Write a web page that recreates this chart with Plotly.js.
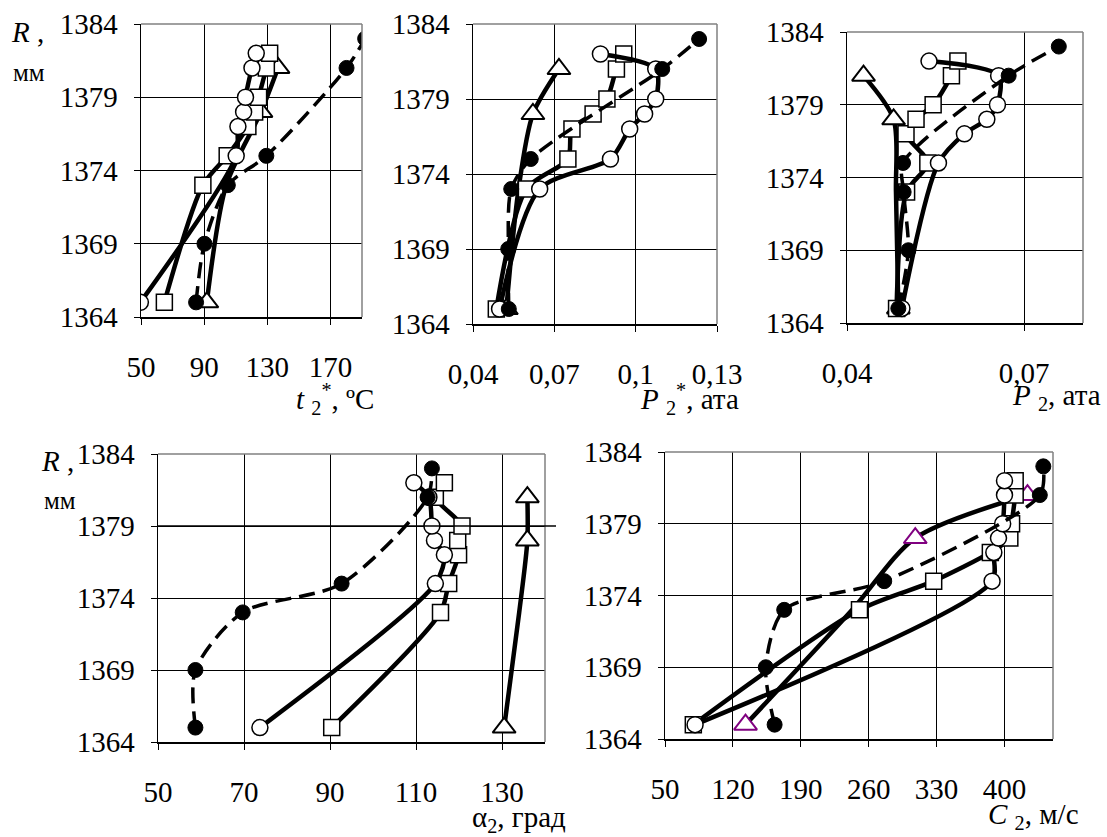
<!DOCTYPE html>
<html>
<head>
<meta charset="utf-8">
<script src="https://cdn.plot.ly/plotly-3.0.1.min.js"></script>
<style>html,body{margin:0;padding:0;background:#fff;}#chart{width:1107px;height:837px;}</style>
</head>
<body>
<div id="chart"></div>
<script>
// ---- Data (R, mm levels) ----
const R_black = [1365, 1369, 1373, 1375, 1381, 1383];
const R_open  = [1365, 1373, 1375, 1377, 1378, 1379, 1381, 1382];
const R_tri   = [1365, 1373, 1378, 1381];
const triShown = [true, false, true, true];

// t2*, ºC
const t2_black = [84.9, 90.2, 105, 129.4, 180.2, 192];
const t2_circ  = [49.6, null, 110.3, 111.4, 115, 116.2, 120.3, 123];
const t2_sq    = [64.8, 89.2, 104.6, 117.7, 122, 124.5, 129.4, 131.5];
const t2_tri   = [91.7, 104, 126, 136.8];

// P2*, ата
const p2s_black = [0.0532, 0.053, 0.0541, 0.0613, 0.1098, 0.1234];
const p2s_circ  = [0.0498, 0.0646, 0.0907, 0.0978, 0.1033, 0.1074, 0.1074, 0.087];
const p2s_sq    = [0.0486, 0.0597, 0.075, 0.0765, 0.0843, 0.0894, 0.0929, 0.0956];
const p2s_tri   = [0.0523, 0.0568, 0.0621, 0.0717];

// P2, ата
const p2_black = [0.0487, 0.0504, 0.0496, 0.0495, 0.0674, 0.0759];
const p2_circ  = [0.0493, null, 0.0555, 0.0599, 0.0637, 0.0655, 0.0657, 0.0539];
const p2_sq    = [0.0484, 0.0501, 0.0537, 0.0500, 0.0517, 0.0546, 0.0577, 0.0588];
const p2_tri   = [0.0487, 0.0483, 0.0479, 0.0428];

// alpha2, град
const a2_black = [58.7, 58.7, 69.7, 92.7, 112.7, 113.7];
const a2_circ  = [73.7, null, 114.5, 116.6, 114.3, 113.7, 113, 109.5];
const a2_sq    = [90.4, 115.7, 117.6, 119.9, 119.7, 120.7, 114.5, 116.6];
const a2_tri   = [130.5, 134, 135.9, 135.9];

// C2, м/с
const c2_black = [163, 153.9, 172.9, 276, 436.4, 440];
const c2_circ  = [81, null, 387.2, 389, 393.8, 398.1, 400, 400];
const c2_sq    = [79.2, 250.5, 327, 385.4, 405.5, 407.3, 411, 411];
const c2_tri   = [133, 243, 308, 423.7];

// ticks
const R_ticks = [1364, 1369, 1374, 1379, 1384];
const t2_ticks = [50, 90, 130, 170];
const p2s_ticks = [0.04, 0.07, 0.1, 0.13];
const p2s_ticktext = ['0,04', '0,07', '0,1', '0,13'];
const p2_ticks = [0.04, 0.07];
const p2_ticktext = ['0,04', '0,07'];
const a2_ticks = [50, 70, 90, 110, 130];
const c2_ticks = [50, 120, 190, 260, 330, 400];

// ---- Layout helpers ----
const W = 1107, H = 837;
const FONT = "'Liberation Serif', 'Times New Roman', serif";
function xd(a, b) { return [a / W, b / W]; }
function yd(top, bottom) { return [1 - bottom / H, 1 - top / H]; }

const boxes = [
  {x: [141, 362], y: [24, 317]},
  {x: [473, 717], y: [24, 324]},
  {x: [847, 1083], y: [32, 323]},
  {x: [158, 545], y: [454, 742]},
  {x: [665, 1053], y: [452, 739]}
];

function xaxis(i, range, vals, text) {
  const b = boxes[i];
  return {
    domain: xd(b.x[0], b.x[1]), anchor: i === 0 ? 'y' : 'y' + (i + 1),
    range: range, tickmode: 'array', tickvals: vals, ticktext: text || vals.map(String),
    showgrid: true, gridcolor: '#000', gridwidth: 1,
    showline: true, linecolor: '#000', linewidth: 1.5,
    ticks: 'outside', ticklen: 6, tickcolor: '#000', tickwidth: 1,
    tickfont: {family: FONT, size: 29, color: '#000'},
    ticklabelstandoff: 18, zeroline: false, fixedrange: true
  };
}
function yaxis(i) {
  const b = boxes[i];
  return {
    domain: yd(b.y[0], b.y[1]), anchor: i === 0 ? 'x' : 'x' + (i + 1),
    range: [1364, 1384], tickmode: 'array', tickvals: R_ticks,
    showgrid: true, gridcolor: '#000', gridwidth: 1,
    showline: true, linecolor: '#000', linewidth: 1.5,
    ticks: 'outside', ticklen: 6, tickcolor: '#000', tickwidth: 1,
    tickfont: {family: FONT, size: 29, color: '#000'},
    ticklabelstandoff: 10, zeroline: false, fixedrange: true
  };
}

function panelTraces(i, black, circ, sq, tri, triEdge) {
  const xa = i === 0 ? 'x' : 'x' + (i + 1);
  const ya = i === 0 ? 'y' : 'y' + (i + 1);
  const common = {type: 'scatter', mode: 'lines+markers', xaxis: xa, yaxis: ya, connectgaps: true, hoverinfo: 'skip', showlegend: false};
  return [
    Object.assign({}, common, {
      x: tri, y: R_tri,
      line: {color: '#000', width: 4.5, shape: 'spline', smoothing: 0.8},
      marker: {symbol: 'triangle-up', size: triShown.map(s => s ? 20 : 0), color: '#ffffff', opacity: 1, line: {color: triEdge, width: 2}}
    }),
    Object.assign({}, common, {
      x: sq, y: R_open,
      line: {color: '#000', width: 4.5, shape: 'spline', smoothing: 0.8},
      marker: {symbol: 'square', size: 16, color: '#fff', line: {color: '#000', width: 1.5}}
    }),
    Object.assign({}, common, {
      x: circ, y: R_open,
      line: {color: '#000', width: 4.5, shape: 'spline', smoothing: 0.8},
      marker: {symbol: 'circle', size: 16, color: '#fff', line: {color: '#000', width: 1.5}}
    }),
    Object.assign({}, common, {
      x: black, y: R_black,
      line: {color: '#000', width: 3.5, dash: '16px,8px', shape: 'spline', smoothing: 0.8},
      marker: {symbol: 'circle', size: 15, color: '#000', line: {color: '#000', width: 1}}
    })
  ];
}

const data = [].concat(
  panelTraces(0, t2_black, t2_circ, t2_sq, t2_tri, '#000'),
  panelTraces(1, p2s_black, p2s_circ, p2s_sq, p2s_tri, '#000'),
  panelTraces(2, p2_black, p2_circ, p2_sq, p2_tri, '#000'),
  panelTraces(3, a2_black, a2_circ, a2_sq, a2_tri, '#000'),
  panelTraces(4, c2_black, c2_circ, c2_sq, c2_tri, '#800080')
);

const shapes = [];
for (let i = 0; i < 5; i++) {
  const xa = i === 0 ? 'x' : 'x' + (i + 1);
  const ya = i === 0 ? 'y' : 'y' + (i + 1);
  shapes.push({type: 'line', xref: xa + ' domain', yref: ya + ' domain', x0: 0, x1: 1, y0: 1, y1: 1, line: {color: '#808080', width: 1.5}});
  shapes.push({type: 'line', xref: xa + ' domain', yref: ya + ' domain', x0: 1, x1: 1, y0: 0, y1: 1, line: {color: '#808080', width: 1.5}});
}
shapes.push({type: 'line', xref: 'paper', yref: 'y4', x0: 158 / W, x1: 556 / W, y0: 1379, y1: 1379, line: {color: '#000', width: 1.5}});

function ann(text, px, py, size, xanchor) {
  return {text: text, xref: 'paper', yref: 'paper', x: px / W, y: 1 - py / H, xanchor: xanchor || 'left', yanchor: 'middle',
          showarrow: false, font: {family: FONT, size: size || 26, color: '#000'}};
}

const annotations = [
  ann('<i>R</i> ,', 46, 32, 29, 'right'),
  ann('мм', 11, 72, 25),
  ann('<i>R</i> ,', 76, 461, 29, 'right'),
  ann('мм', 42, 500, 25),
  ann('<i>t</i> <sub>2</sub><sup>*</sup>, ºC', 294, 399, 29),
  ann('<i>P</i> <sub>2</sub><sup>*</sup>, ата', 638, 399, 29),
  ann('<i>P</i> <sub>2</sub>, ата', 1010, 397, 29),
  ann('α<sub>2</sub>, град', 470, 819, 29),
  ann('<i>C</i> <sub>2</sub>, м/с', 986, 816, 29)
];

const layout = {
  width: W, height: H, margin: {l: 0, r: 0, t: 0, b: 0},
  paper_bgcolor: '#fff', plot_bgcolor: '#fff',
  font: {family: FONT, color: '#000'},
  showlegend: false,
  xaxis: xaxis(0, [50, 190], t2_ticks),
  yaxis: yaxis(0),
  xaxis2: xaxis(1, [0.04, 0.13], p2s_ticks, p2s_ticktext),
  yaxis2: yaxis(1),
  xaxis3: xaxis(2, [0.04, 0.08], p2_ticks, p2_ticktext),
  yaxis3: yaxis(2),
  xaxis4: xaxis(3, [50, 140], a2_ticks),
  yaxis4: yaxis(3),
  xaxis5: xaxis(4, [50, 450], c2_ticks),
  yaxis5: yaxis(4),
  shapes: shapes,
  annotations: annotations
};

Plotly.newPlot('chart', data, layout, {staticPlot: true, displayModeBar: false});
</script>
</body>
</html>
